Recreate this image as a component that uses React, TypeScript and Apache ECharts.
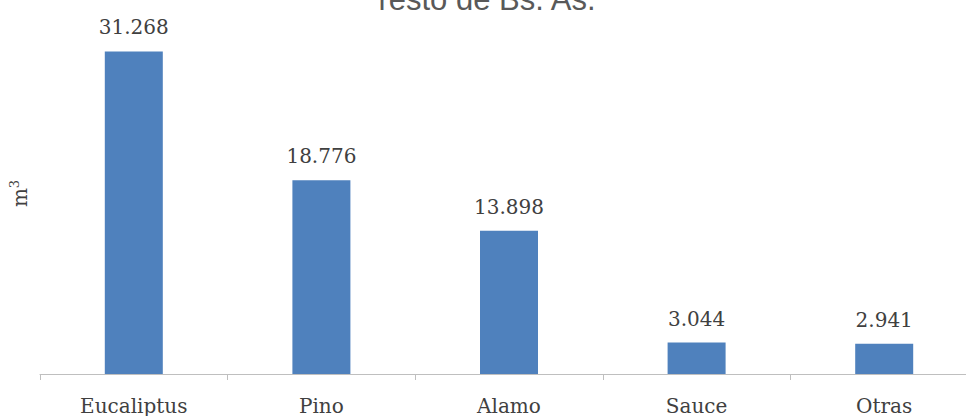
import React, { useEffect, useRef } from "react";
import * as echarts from "echarts";

const categories = ["Eucaliptus", "Pino", "Alamo", "Sauce", "Otras"];
const values = [31.268, 18.776, 13.898, 3.044, 2.941];
const titleText = "resto de Bs. As.";
const yUnit = "m";
const yUnitSup = "3";

export default function App() {
  const ref = useRef<HTMLDivElement>(null);
  useEffect(() => {
    if (!ref.current) return;
    const chart = echarts.init(ref.current, null, { renderer: "svg" });
    chart.setOption({
      animation: false,
      backgroundColor: "#ffffff",
      graphic: [
        {
          type: "text",
          style: {
            text: titleText,
            x: 487,
            y: -1,
            textAlign: "center",
            verticalAlign: "middle",
            font: "31px 'Liberation Sans', Arial, sans-serif",
            fill: "#595959",
          },
        },
      ],
      grid: { left: 40, top: 13, right: 0, height: 362 },
      xAxis: {
        type: "category",
        data: categories,
        axisLine: { lineStyle: { color: "#bfbfbf", width: 1 } },
        axisTick: { show: true, length: 6, lineStyle: { color: "#bfbfbf" } },
        axisLabel: {
          fontFamily: "'DejaVu Serif', serif",
          fontSize: 20,
          color: "#404040",
          margin: 22,
        },
      },
      yAxis: {
        type: "value",
        min: 0,
        max: 35,
        show: true,
        axisLine: { show: false },
        axisTick: { show: false },
        axisLabel: { show: false },
        splitLine: { show: false },
        name: `{a|${yUnit}}{b|${yUnitSup}}`,
        nameLocation: "middle",
        nameGap: 8,
        nameRotate: 90,
        nameTextStyle: {
          fontFamily: "'DejaVu Serif', serif",
          fontSize: 20,
          color: "#404040",
          rich: {
            a: { fontFamily: "'DejaVu Serif', serif", fontSize: 20, color: "#404040", lineHeight: 24 },
            b: { fontFamily: "'DejaVu Serif', serif", fontSize: 13, color: "#404040", verticalAlign: "top", padding: [0, 0, 8, 0] },
          },
        },
      },
      series: [
        {
          type: "bar",
          data: values,
          barWidth: 58,
          itemStyle: { color: "#4f81bd" },
          label: {
            show: true,
            position: "top",
            distance: 14,
            fontFamily: "'DejaVu Serif', serif",
            fontSize: 20,
            color: "#404040",
            formatter: (p: any) => p.value.toFixed(3),
          },
        },
      ],
    });
    return () => chart.dispose();
  }, []);
  return (
    <div
      style={{
        position: "absolute",
        left: 0,
        top: 0,
        width: 966,
        height: 416,
        overflow: "hidden",
      }}
    >
      <div ref={ref} style={{ width: 978, height: 416 }} />
    </div>
  );
}
